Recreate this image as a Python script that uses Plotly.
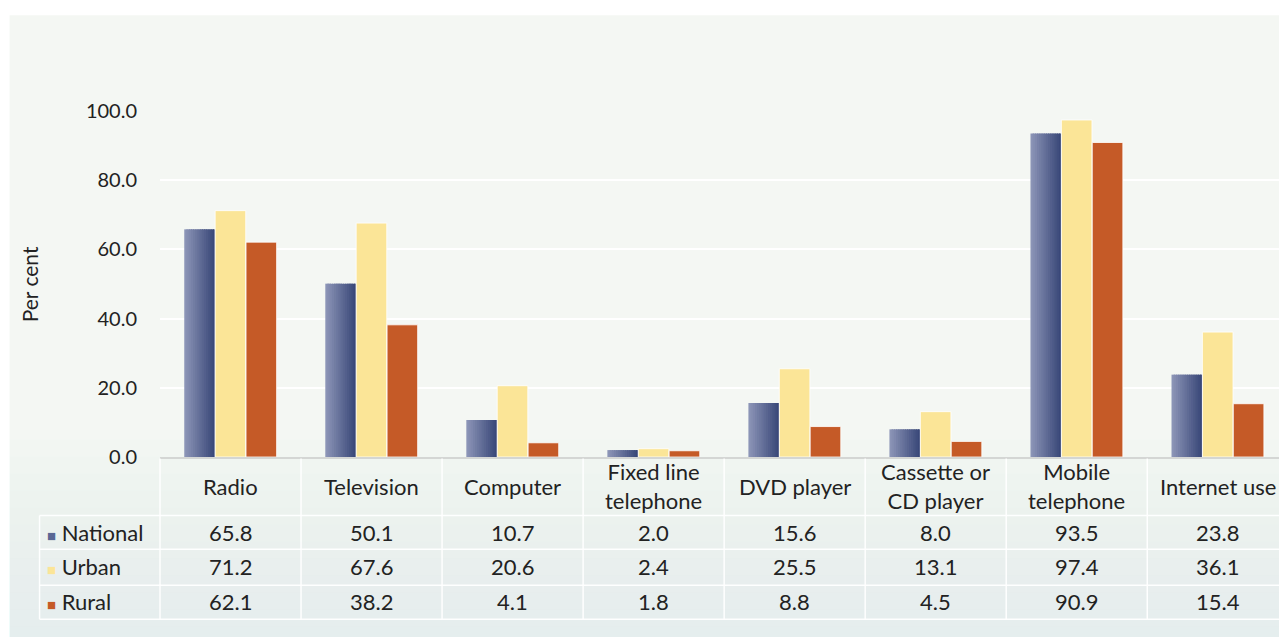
import plotly.graph_objects as go

# Household access to ICT, per cent
categories = ["Radio", "Television", "Computer", "Fixed line<br>telephone",
              "DVD player", "Cassette or<br>CD player", "Mobile<br>telephone", "Internet use"]
series_names = ["National", "Urban", "Rural"]
national = [65.8, 50.1, 10.7, 2.0, 15.6, 8.0, 93.5, 23.8]
urban = [71.2, 67.6, 20.6, 2.4, 25.5, 13.1, 97.4, 36.1]
rural = [62.1, 38.2, 4.1, 1.8, 8.8, 4.5, 90.9, 15.4]
y_ticks = [0, 20, 40, 60, 80, 100]

W, H = 1279, 637
PL, PT, PB_Y = 159.5, 111.0, 457.5          # plot left, top, bottom (px)
COL = 141.1                                  # category column width (px)
PW = W - PL
PH = PB_Y - PT


def px(x):
    return (x - PL) / PW


def py(y):
    return (PB_Y - y) / PH


FONT = "Lato, 'Open Sans', sans-serif"
TXT = "#222222"
NAT_LEFT, NAT_RIGHT = (139, 148, 182), (58, 72, 121)
URB_C = "#FBE597"
RUR_C = "#C55A27"

bar_w = 0.217
offsets = [-0.328, -0.109, 0.110]

fig = go.Figure()

# National bars with a left-to-right shading, built from thin slices
n_slices = 14
sw = bar_w / n_slices
for k in range(n_slices):
    t = k / (n_slices - 1)
    c = tuple(round(a + (b - a) * t) for a, b in zip(NAT_LEFT, NAT_RIGHT))
    last = k == n_slices - 1
    fig.add_trace(go.Bar(
        x=categories, y=national, name=series_names[0],
        offset=offsets[0] + k * sw, width=sw if last else sw * 1.6,
        marker=dict(color="rgb(%d,%d,%d)" % c, line=dict(width=0)),
        showlegend=False, hoverinfo="skip" if not last else None,
    ))

fig.add_trace(go.Bar(
    x=categories, y=urban, name=series_names[1], offset=offsets[1], width=bar_w,
    marker=dict(color=URB_C, line=dict(color="rgba(255,255,255,0.8)", width=1)),
    showlegend=False,
))
fig.add_trace(go.Bar(
    x=categories, y=rural, name=series_names[2], offset=offsets[2], width=bar_w,
    marker=dict(color=RUR_C, line=dict(color="rgba(255,255,255,0.8)", width=1)),
    showlegend=False,
))

shapes = []
# panel background
shapes.append(dict(type="rect", xref="paper", yref="paper", layer="below",
                   x0=px(9), x1=px(W + 5), y0=py(H + 5), y1=py(15),
                   fillcolor="#f4f7f3", line=dict(width=0)))
# gentle bluish fade towards the bottom of the panel
for j in range(12):
    y_top = 440 + j * 17
    shapes.append(dict(type="rect", xref="paper", yref="paper", layer="below",
                       x0=px(9), x1=px(W + 5), y0=py(H + 5), y1=py(y_top),
                       fillcolor="rgba(228,240,240,0.06)", line=dict(width=0)))

# data table grid
grid_c = "rgba(255,255,255,0.95)"
for yy in [516, 550, 586, 620]:
    shapes.append(dict(type="line", xref="paper", yref="paper",
                       x0=px(39), x1=px(W + 5), y0=py(yy), y1=py(yy),
                       line=dict(color=grid_c, width=1.5)))
shapes.append(dict(type="line", xref="paper", yref="paper",
                   x0=px(39), x1=px(39), y0=py(516), y1=py(620),
                   line=dict(color=grid_c, width=1.5)))
for i in range(len(categories) + 1):
    xx = PL + i * COL
    shapes.append(dict(type="line", xref="paper", yref="paper",
                       x0=px(xx), x1=px(xx), y0=py(459), y1=py(620),
                       line=dict(color=grid_c, width=1.5)))

annotations = []
# y axis title
annotations.append(dict(text="Per cent", xref="paper", yref="paper",
                        x=px(29), y=py(285), textangle=-90, showarrow=False,
                        xanchor="center", yanchor="middle",
                        font=dict(family=FONT, size=21, color=TXT)))
# category labels
for c in categories:
    annotations.append(dict(text=c, xref="x", yref="paper", x=c, y=py(487),
                            showarrow=False, xanchor="center", yanchor="middle",
                            font=dict(family=FONT, size=22, color=TXT)))
# table rows
rows = [(series_names[0], national, "#5a6794", 533),
        (series_names[1], urban, URB_C, 567),
        (series_names[2], rural, RUR_C, 602)]
for name, vals, col, yy in rows:
    annotations.append(dict(
        text='<span style="color:%s;font-size:15px">■</span> %s' % (col, name),
        xref="paper", yref="paper", x=px(44), y=py(yy), showarrow=False,
        xanchor="left", yanchor="middle",
        font=dict(family=FONT, size=22, color=TXT)))
    for c, v in zip(categories, vals):
        annotations.append(dict(text="%.1f" % v, xref="x", yref="paper", x=c,
                                y=py(yy), showarrow=False,
                                xanchor="center", yanchor="middle",
                                font=dict(family=FONT, size=22, color=TXT)))

fig.update_layout(
    width=W, height=H,
    margin=dict(l=PL, r=0, t=PT, b=H - PB_Y, pad=0),
    paper_bgcolor="white", plot_bgcolor="rgba(0,0,0,0)",
    barmode="group", showlegend=False,
    shapes=shapes, annotations=annotations,
    xaxis=dict(range=[-0.5, -0.5 + PW / COL], showticklabels=False,
               showgrid=False, zeroline=False, showline=True,
               linecolor="#d4d6d4", linewidth=1.5, fixedrange=True),
    yaxis=dict(range=[0, 100], tickvals=y_ticks, tickformat=".1f",
               showgrid=True, gridcolor="rgba(255,255,255,1)", gridwidth=1.5,
               zeroline=False, showline=False, ticks="",
               ticklabelstandoff=22,
               tickfont=dict(family=FONT, size=20, color=TXT), fixedrange=True),
)

fig.write_html("out.html")
